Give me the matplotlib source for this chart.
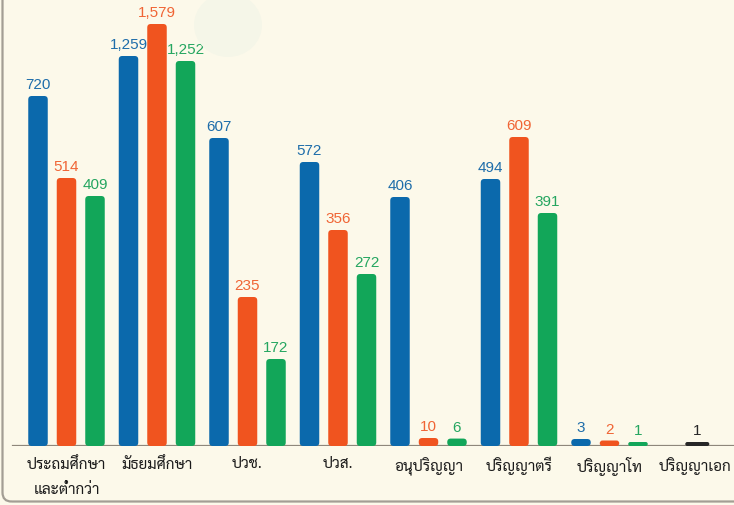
import numpy as np
import matplotlib
matplotlib.use('Agg')
import matplotlib.pyplot as plt
from matplotlib.patches import FancyBboxPatch, Ellipse
from matplotlib.scale import FuncScale
from matplotlib.transforms import ScaledTranslation

# Data
categories = ['ประถมศึกษา\nและต่ำกว่า', 'มัธยมศึกษา', 'ปวช.', 'ปวส.',
              'อนุปริญญา', 'ปริญญาตรี', 'ปริญญาโท', 'ปริญญาเอก']
blue_vals = [720, 1259, 607, 572, 406, 494, 3]
orange_vals = [514, 1579, 235, 356, 10, 609, 2]
green_vals = [409, 1252, 172, 272, 6, 391, 1]
black_vals = [1]  # only ปริญญาเอก

# The infographic is not drawn to a linear scale: piecewise scale
knot_v = np.array([0, 1, 3, 10, 172, 235, 272, 356, 391, 406, 409, 494, 514,
                   572, 607, 609, 720, 1252, 1259, 1579, 3000])
knot_h = np.array([0, 4, 7, 8, 87, 149, 172, 216, 233, 249, 250, 267, 268,
                   284, 308, 309, 350, 385, 390, 422, 560])


def fwd(v):
    return np.interp(v, knot_v, knot_h)


def inv(h):
    return np.interp(h, knot_h, knot_v)


bg = '#FCF9EA'
c_bar = ['#0B69AC', '#F0541F', '#12A659']
c_txt = ['#1E6DAA', '#F06535', '#25A660']
c_black = '#272727'

W, H = 734, 505
fig = plt.figure(figsize=(W / 100, H / 100), dpi=100)
fig.patch.set_facecolor(bg)

# faint circle and rounded frame
fig.patches.append(Ellipse((228, H - 25), 68, 64, transform=None,
                           facecolor='#F5F6E8', edgecolor='none', zorder=0))
fig.patches.append(FancyBboxPatch((2.5, 3.5), 900, 700, transform=None,
                                  boxstyle='round,pad=0,rounding_size=9',
                                  facecolor='none', edgecolor='#A39E94', lw=1.6))

pitch = 90.5
x0 = 66.5
base = 446.0
top = base - 422.0
ax = fig.add_axes([0, (H - base) / H, 1, (base - top) / H])
ax.set_facecolor('none')
ax.set_yscale(FuncScale(ax.yaxis, (fwd, inv)))
ax.set_ylim(0, 1579)
ax.set_xlim(-x0 / pitch, (W - x0) / pitch)
for s in ax.spines.values():
    s.set_visible(False)
ax.set_yticks([])

n = len(blue_vals)
x = np.arange(n)
off = 28.5 / pitch
bw = 19.5 / pitch

bars = []
for series, k in zip([blue_vals, orange_vals, green_vals], [-1, 0, 1]):
    bars.append(ax.bar(x + k * off, series, width=bw))
bars.append(ax.bar([n - 0.03], black_vals, width=24 / pitch))

ax.axhline(0, xmin=13 / W, xmax=1, color='#8E877B', lw=1.6, zorder=1)

ax.set_xticks(np.arange(len(categories)))
ax.set_xticklabels(categories, family=['Sarabun', 'DejaVu Sans'], fontsize=11,
                   color='#1A1A1A', linespacing=2.0)
ax.tick_params(axis='x', length=0, pad=8)
last = ax.get_xticklabels()[-1]
last.set_transform(last.get_transform() + ScaledTranslation(-5 / 100, 0, fig.dpi_scale_trans))

fig.canvas.draw()

# replace plain bars with rounded ones, in pixels
colors = c_bar + [c_black]
tcolors = c_txt + [c_black]
for bc, col, tcol in zip(bars, colors, tcolors):
    for p in bc.patches:
        bb = p.get_window_extent()
        h = max(bb.height, 4)
        r = min(3.5, h / 2)
        fig.patches.append(FancyBboxPatch((bb.x0, bb.y0), bb.width, h, transform=None,
                                          boxstyle=f'round,pad=0,rounding_size={r}',
                                          facecolor=col, edgecolor='none', zorder=3))
        p.set_visible(False)
        val = p.get_height()
        ax.annotate(f'{int(val):,}', (p.get_x() + p.get_width() / 2, val),
                    xytext=(0, 5), textcoords='offset points',
                    ha='center', va='baseline', color=tcol, fontsize=11,
                    family='Liberation Sans')

fig.savefig('out.png', facecolor=bg)
